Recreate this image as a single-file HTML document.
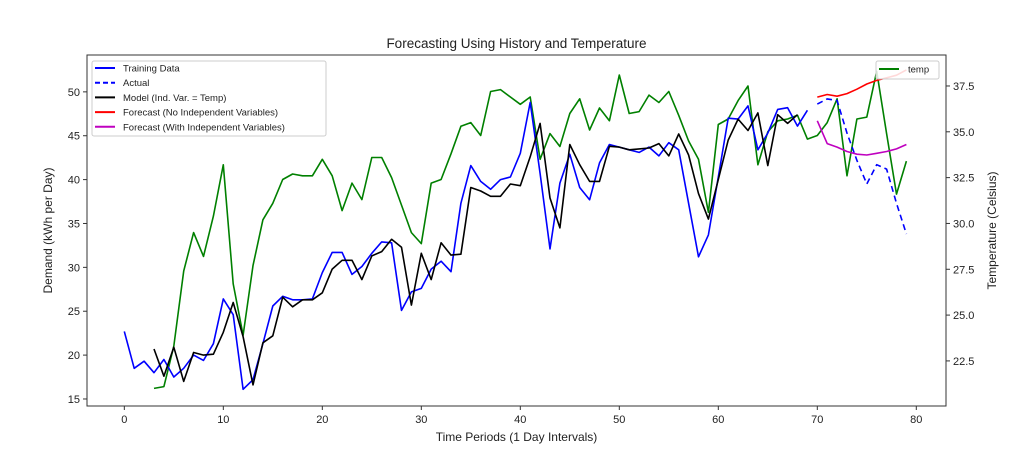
<!DOCTYPE html>
<html><head><meta charset="utf-8"><style>
body{margin:0;background:#fff;font-family:"Liberation Sans",sans-serif}
svg text{font-family:"Liberation Sans",sans-serif;fill:#222}
</style></head><body>
<svg id="c" width="1024" height="458" viewBox="0 0 1024 458" xmlns="http://www.w3.org/2000/svg"></svg>
<script>
const xTicks=[0,10,20,30,40,50,60,70,80];
const yTicksL=[15,20,25,30,35,40,45,50];
const yTicksR=[22.5,25.0,27.5,30.0,32.5,35.0,37.5];
const training=[22.7,18.5,19.3,18,19.5,17.5,18.5,20,19.4,21.3,26.4,24.6,16.1,17.2,21.3,25.6,26.7,26.3,26.3,26.4,29.4,31.7,31.7,29.2,30.1,31.6,32.9,32.8,25.1,27.2,27.6,29.8,30.7,29.5,37.3,41.6,39.8,38.9,40,40.3,43,48.8,40.7,32.1,39.6,42.9,39.1,37.7,41.9,44,43.7,43.4,43.1,43.7,42.7,44.2,43.4,37.3,31.2,33.7,40.3,47,46.9,48.4,43.4,45.3,48,48.2,46.1,47.9];
const actual=[48.6,49.2,49,45.3,42.2,39.5,41.7,41.2,37.3,33.8];
const model=[20.7,17.6,20.9,17,20.3,20,20.1,22.6,26,22.1,16.6,21.4,22.2,26.6,25.5,26.3,26.3,27.1,29.8,30.8,30.8,28.6,31.3,31.8,33.2,32.3,25.7,31.6,28.6,32.8,31.4,31.5,39.1,38.7,38.1,38.1,39.5,39.3,42.6,46.4,37.9,34.5,44,41.7,39.8,39.8,43.8,43.7,43.4,43.5,43.6,44.1,42.7,45.2,42.8,38.4,35.5,40,44.5,46.9,45.6,47.6,41.6,47.4,46.4,47.4];
const fcNoIv=[49.4,49.7,49.5,49.8,50.3,50.9,51.3,51.6,51.9,52.5];
const fcIv=[46.7,44.1,43.7,43.2,42.9,42.8,43,43.2,43.5,44];
const temp=[21.0,21.1,23.3,27.4,29.5,28.2,30.4,33.2,26.7,23.9,27.7,30.2,31.1,32.4,32.7,32.6,32.6,33.5,32.6,30.7,32.2,31.3,33.6,33.6,32.5,31,29.5,28.9,32.2,32.4,33.8,35.3,35.5,34.8,37.2,37.3,36.9,36.5,36.9,33.5,34.9,34.2,36,36.8,35.1,36.3,35.6,38.1,36,36.1,37,36.6,37.2,35.9,34.5,33.5,30.6,35.4,35.7,36.7,37.5,33.2,35,35.6,35.7,35.9,34.6,34.8,35.5,36.8,32.6,35.7,35.8,38.3,34.9,31.6,33.4];
const L=87,R=946,T=55,B=406;
const X=v=>L+(v-(-3.77))/(83.0-(-3.77))*(R-L);
const YL=v=>B-(v-14.2)/(54.2-14.2)*(B-T);
const YR=v=>B-(v-20.04)/(39.19-20.04)*(B-T);
const svg=document.getElementById('c');const NS='http://www.w3.org/2000/svg';
function el(t,a,txt){const e=document.createElementNS(NS,t);for(const k in a)e.setAttribute(k,a[k]);if(txt!==undefined)e.textContent=txt;svg.appendChild(e);return e;}
function line(vals,start,yf,color,name,dash){
 const pts=vals.map((v,i)=>X(start+i).toFixed(1)+','+yf(v).toFixed(1)).join(' ');
 const p=el('polyline',{points:pts,fill:'none',stroke:color,'stroke-width':1.6,'stroke-linejoin':'round'});
 if(dash)p.setAttribute('stroke-dasharray',dash);
 
 
}
const fr=el('rect',{x:L,y:T,width:R-L,height:B-T,fill:'#fff',stroke:'#333','stroke-width':1});


xTicks.forEach(t=>{el('line',{x1:X(t),x2:X(t),y1:B,y2:B+4,stroke:'#333'});const tx=el('text',{x:X(t),y:B+17,'font-size':11,'text-anchor':'middle'},String(t));});
yTicksL.forEach(t=>{el('line',{x1:L-4,x2:L,y1:YL(t),y2:YL(t),stroke:'#333'});const tx=el('text',{x:L-7,y:YL(t)+4,'font-size':11,'text-anchor':'end'},String(t));});
yTicksR.forEach(t=>{el('line',{x1:R,x2:R+4,y1:YR(t),y2:YR(t),stroke:'#333'});const tx=el('text',{x:R+7,y:YR(t)+4,'font-size':11},t.toFixed(1));});
line(temp,3,YR,'#008000','temp-line');
line(training,0,YL,'#0000ff','training-line');
line(actual,70,YL,'#0000ff','actual-line','6,4');
line(model,3,YL,'#000000','model-line');
line(fcNoIv,70,YL,'#ff0000','forecast-no-iv-line');
line(fcIv,70,YL,'#bf00bf','forecast-iv-line');
const ti=el('text',{x:(L+R)/2,y:48,'font-size':13.5,'text-anchor':'middle'},'Forecasting Using History and Temperature');

const xl=el('text',{x:(L+R)/2,y:441,'font-size':12,'text-anchor':'middle'},'Time Periods (1 Day Intervals)');

const yl=el('text',{x:0,y:0,'font-size':12,'text-anchor':'middle',transform:'translate(52,'+((T+B)/2)+') rotate(-90)'},'Demand (kWh per Day)');

const yr=el('text',{x:0,y:0,'font-size':12,'text-anchor':'middle',transform:'translate(996,'+((T+B)/2)+') rotate(-90)'},'Temperature (Celsius)');

const lg=el('rect',{x:92,y:61,width:234,height:75,fill:'#fff','fill-opacity':0.85,stroke:'#ccc',rx:2});

const items=[['Training Data','#0000ff',''],['Actual','#0000ff','5,3'],['Model (Ind. Var. = Temp)','#000',''],['Forecast (No Independent Variables)','#ff0000',''],['Forecast (With Independent Variables)','#bf00bf','']];
items.forEach((it,i)=>{const y=68+i*14.7;const ln=el('line',{x1:95,x2:115,y1:y,y2:y,stroke:it[1],'stroke-width':2});if(it[2])ln.setAttribute('stroke-dasharray',it[2]);const t=el('text',{x:123,y:y+3.5,'font-size':9.5},it[0]);});
const lg2=el('rect',{x:876,y:61,width:63,height:18,fill:'#fff','fill-opacity':0.85,stroke:'#ccc',rx:2});

el('line',{x1:879,x2:899,y1:69,y2:69,stroke:'#008000','stroke-width':2});
const t2=el('text',{x:908,y:72.5,'font-size':9.5},'temp');
</script>
</body></html>
